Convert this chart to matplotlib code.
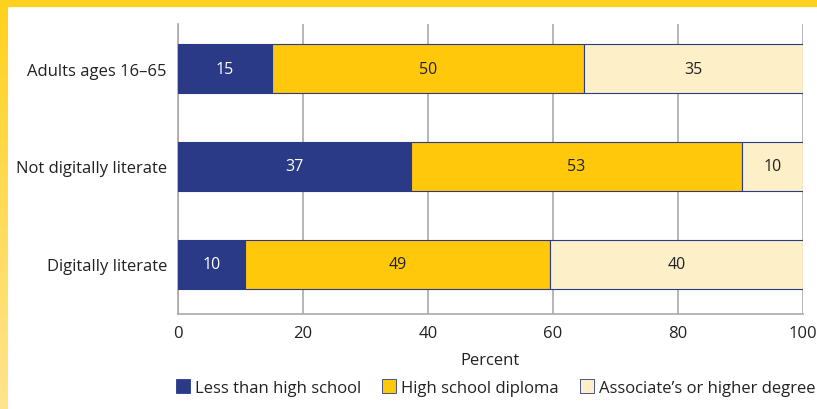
import matplotlib
matplotlib.use("Agg")
import matplotlib.pyplot as plt
import numpy as np
from matplotlib.patches import Rectangle
from matplotlib.lines import Line2D
from matplotlib.colors import LinearSegmentedColormap

categories = ["Adults ages 16–65", "Not digitally literate", "Digitally literate"]
series_names = ["Less than high school", "High school diploma", "Associate’s or higher degree"]
less_hs = [15, 37.2, 10.7]
hs_diploma = [50, 53, 48.8]
assoc_higher = [35, 9.8, 40.5]
less_hs_labels = ["15", "37", "10"]
hs_diploma_labels = ["50", "53", "49"]
assoc_higher_labels = ["35", "10", "40"]
xticks = [0, 20, 40, 60, 80, 100]

colors = ["#2B3A87", "#FFC80A", "#FDEFC8"]
text_colors = ["white", "#222222", "#222222"]

plt.rcParams['font.family'] = ['Open Sans', 'DejaVu Sans']

fig = plt.figure(figsize=(8.17, 4.10), dpi=100)
W, H = 817, 410
ax = fig.add_axes([178 / W, 1 - 315 / H, (803 - 178) / W, (315 - 25) / H])

# frame: top band and left gradient band
fig.patches.append(Rectangle((0, 1 - 7 / H), 1, 7 / H, transform=fig.transFigure,
                             color="#FFD21F", zorder=0))
grad = np.linspace(0, 1, 100).reshape(-1, 1)
gax = fig.add_axes([0, 0, 8 / W, 1 - 7 / H])
cmap = LinearSegmentedColormap.from_list("g", ["#FFD21F", "#FFE48E"])
gax.imshow(grad, aspect="auto", cmap=cmap, origin="upper")
gax.axis("off")

y = np.arange(len(categories))
series = [less_hs, hs_diploma, assoc_higher]
labels_all = [less_hs_labels, hs_diploma_labels, assoc_higher_labels]
left = np.zeros(len(categories))
for vals, labs, name, c, tc in zip(series, labels_all, series_names, colors, text_colors):
    vals = np.array(vals, dtype=float)
    ax.barh(y, vals, left=left, height=0.5, color=c, edgecolor="#2B3A87",
            linewidth=0.8, label=name, zorder=3)
    for yi, l, v, lab in zip(y, left, vals, labs):
        ax.text(l + v / 2, yi, lab, ha="center", va="center",
                color=tc, fontsize=11.5, zorder=4)
    left += vals

ax.set_ylim(2.51, -0.455)
ax.set_xlim(0, 100)
ax.set_xticks(xticks)
ax.set_xticklabels([str(t) for t in xticks], fontsize=12, color="#222222")
ax.set_yticks(y)
ax.set_yticklabels(categories, fontsize=12, color="#222222")
ax.tick_params(axis="both", length=0, pad=8)
ax.xaxis.grid(True, color="#AAAAAA", linewidth=1.2, zorder=0)
ax.set_axisbelow(True)
for s in ["top", "right"]:
    ax.spines[s].set_visible(False)
for s in ["left", "bottom"]:
    ax.spines[s].set_color("#AAAAAA")
    ax.spines[s].set_linewidth(1.2)
ax.set_xlabel("Percent", fontsize=12, color="#222222", labelpad=8)

hs = [Line2D([0], [0], marker="s", linestyle="none", markersize=10.5,
             markerfacecolor=c, markeredgecolor="#2B3A87", markeredgewidth=0.6)
      for c in colors]
fig.legend(hs, series_names, loc="center", bbox_to_anchor=(495 / W, 1 - 389 / H),
           ncol=3, frameon=False, fontsize=12, handletextpad=0.2,
           columnspacing=1.2, handlelength=1.0, labelcolor="#222222")

fig.savefig("out.png", dpi=100)
